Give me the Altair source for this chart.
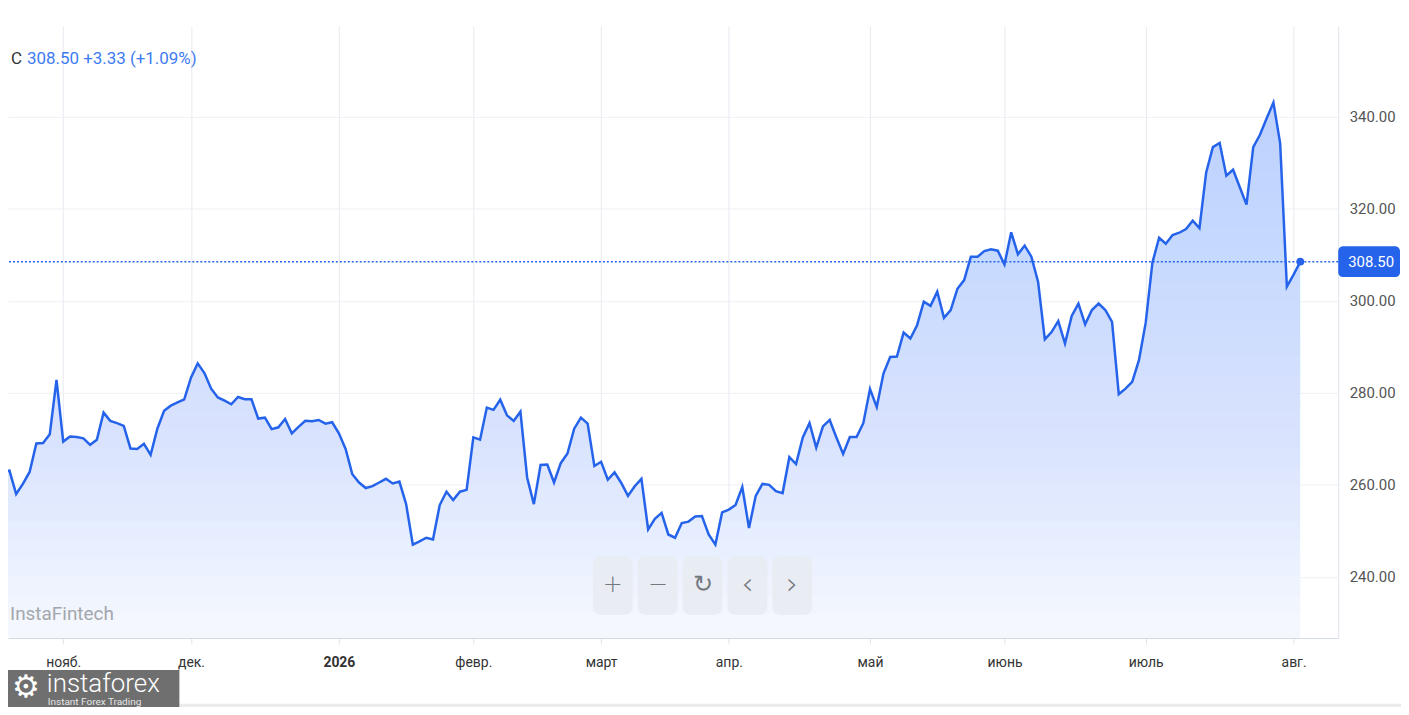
import altair as alt
import pandas as pd

# ---------------- data ----------------
ticker = "C"
last_price = 308.50
change = "+3.33"
change_pct = "(+1.09%)"

prices = [
    262.7, 263.1, 258.0, 260.2, 262.8, 269.0, 269.1, 271.0, 282.8, 269.4,
    270.5, 270.4, 270.1, 268.7, 269.8, 275.7, 273.9, 273.4, 272.8, 267.9,
    267.8, 268.9, 266.5, 272.2, 276.1, 277.2, 277.9, 278.6, 283.3, 286.4,
    284.3, 280.9, 279.0, 278.3, 277.5, 279.1, 278.6, 278.6, 274.4, 274.6,
    272.1, 272.5, 274.3, 271.2, 272.6, 273.9, 273.8, 274.1, 273.3, 273.6,
    271.2, 267.8, 262.3, 260.5, 259.3, 259.7, 260.5, 261.3, 260.3, 260.7,
    255.8, 247.0, 247.7, 248.5, 248.1, 255.6, 258.5, 256.7, 258.5, 258.9,
    270.3, 269.8, 276.8, 276.3, 278.5, 275.1, 273.9, 275.9, 261.6, 255.8,
    264.3, 264.4, 260.5, 264.7, 266.8, 272.2, 274.6, 273.3, 264.1, 265.0,
    261.1, 262.7, 260.4, 257.6, 259.7, 261.3, 250.3, 252.6, 253.9, 249.2,
    248.5, 251.7, 252.0, 253.1, 253.2, 249.2, 247.0, 254.0, 254.6, 255.6,
    259.5, 250.6, 257.6, 260.2, 260.0, 258.6, 258.2, 266.0, 264.5, 270.3,
    273.4, 268.1, 272.7, 274.1, 270.3, 266.7, 270.4, 270.4, 273.4, 280.8,
    276.9, 284.2, 287.8, 287.9, 293.1, 291.8, 294.7, 299.8, 298.9, 302.0,
    296.3, 298.0, 302.6, 304.5, 309.6, 309.6, 310.8, 311.2, 310.9, 307.9,
    314.9, 310.1, 312.0, 309.6, 304.1, 291.6, 293.2, 295.6, 290.7, 296.7,
    299.4, 294.9, 298.0, 299.4, 298.0, 295.4, 279.7, 280.9, 282.4, 287.1,
    295.2, 308.3, 313.7, 312.4, 314.3, 314.8, 315.6, 317.4, 315.8, 327.9,
    333.4, 334.3, 327.2, 328.5, 324.7, 320.9, 333.4, 336.1, 339.7, 343.1,
    334.3, 303.1, 305.7, 308.5,
]

month_ticks = [9, 28, 50, 70, 89, 108, 129, 149, 170, 192]
month_labels = ["нояб.", "дек.", "2026", "февр.", "март", "апр.", "май", "июнь", "июль", "авг."]
year_tick = 50
y_ticks = [240, 260, 280, 300, 320, 340]

watermark = "InstaFintech"
logo_main = "instaforex"
logo_sub = "Instant Forex Trading"
buttons = ["+", "−", "↻", "‹", "›"]

df = pd.DataFrame({"i": list(range(len(prices))), "price": prices})
df_last = pd.DataFrame({"v": [last_price]})

# shading bands (a stepped vertical fade under the price line)
shade_levels = list(range(232, 345, 4))
df_shade = pd.concat(
    [df.assign(level=lv, top=df["price"].clip(lower=lv)) for lv in shade_levels],
    ignore_index=True,
)

# ---------------- layout / style ----------------
W, H = 1335, 614
BLUE = "#2563eb"
BLUE_TXT = "#3d7bf2"
FONT = "Roboto"
Y_MIN, Y_MAX = 226.7, 359.7

x_scale = alt.Scale(domain=[0.785, 198.64], nice=False, zero=False)
y_scale = alt.Scale(domain=[Y_MIN, Y_MAX], nice=False, zero=False)

label_expr = ("[" + ",".join(f"'{l}'" for l in month_labels) + "][indexof(["
              + ",".join(str(t) for t in month_ticks) + "], datum.value)]")

x_axis = alt.Axis(
    values=month_ticks, labelExpr=label_expr, title=None, grid=True,
    gridColor="#e7eaf0", tickColor="#dfe3ea", tickSize=6, domainColor="#d5dbe3",
    labelColor="#333333", labelFont=FONT, labelFontSize=14, labelPadding=12,
    labelFontWeight={"condition": {"test": f"datum.value === {year_tick}", "value": "bold"}, "value": "normal"},
    labelFlush=False, labelOverlap=False,
)
y_axis = alt.Axis(
    orient="right", values=y_ticks, format=".2f", title=None, grid=True,
    gridColor="#eef0f4", ticks=False, domainColor="#dde2ea",
    labelColor="#555555", labelFont=FONT, labelFontSize=15, labelPadding=11,
)

X = alt.X("i:Q", scale=x_scale, axis=x_axis)
Y = alt.Y("price:Q", scale=y_scale, axis=y_axis)

base = alt.Chart(df)
area = base.mark_area(clip=True, color="#f4f7fe", opacity=1).encode(x=X, y=Y, y2=alt.value(H))
shade = alt.Chart(df_shade).mark_area(clip=True, color="#a9c1f2", opacity=0.036).encode(
    x=alt.X("i:Q", scale=x_scale),
    y=alt.Y("top:Q", scale=y_scale, stack=None),
    y2="level:Q",
    detail="level:N",
)
line = base.mark_line(clip=True, color=BLUE, strokeWidth=2.5).encode(
    x=alt.X("i:Q", scale=x_scale), y=alt.Y("price:Q", scale=y_scale))
endpoint = base.transform_filter(f"datum.i == {len(prices) - 1}").mark_circle(
    size=60, color=BLUE, opacity=1).encode(
    x=alt.X("i:Q", scale=x_scale), y=alt.Y("price:Q", scale=y_scale))

last_rule = alt.Chart(df_last).mark_rule(color=BLUE, strokeWidth=1.4, strokeDash=[2, 2]).encode(
    y=alt.Y("v:Q", scale=y_scale))
last_box = alt.Chart(df_last).transform_calculate(
    top="datum.v + 3.35", bot="datum.v - 3.35").mark_rect(
    color=BLUE, cornerRadius=5).encode(
    x=alt.value(W), x2=alt.value(W + 62),
    y=alt.Y("top:Q", scale=y_scale), y2="bot:Q")
last_txt = alt.Chart(df_last).mark_text(
    color="white", font=FONT, fontSize=15, align="center", baseline="middle").encode(
    x=alt.value(W + 33), y=alt.Y("v:Q", scale=y_scale), text=alt.Text("v:Q", format=".2f"))

header_c = alt.Chart(pd.DataFrame({"t": [ticker]})).mark_text(
    align="left", baseline="middle", font=FONT, fontSize=17, color="#333333").encode(
    x=alt.value(3), y=alt.value(33), text="t:N")
header_v = alt.Chart(pd.DataFrame({"t": [f"{last_price:.2f}  {change} {change_pct}"]})).mark_text(
    align="left", baseline="middle", font=FONT, fontSize=17, color=BLUE_TXT).encode(
    x=alt.value(19), y=alt.value(33), text="t:N")

wm = alt.Chart(pd.DataFrame({"t": [watermark]})).mark_text(
    align="left", baseline="middle", font=FONT, fontSize=19, color="#a3a7ad").encode(
    x=alt.value(2), y=alt.value(590), text="t:N")

layers = [area, shade, line, last_rule, endpoint, last_box, last_txt, header_c, header_v, wm]

# zoom / navigation buttons
for k, g in enumerate(buttons):
    cx = 607 + 45 * k
    bdf = pd.DataFrame({"g": [g]})
    layers.append(alt.Chart(bdf).mark_rect(color="#e8ebf1", opacity=0.85, cornerRadius=8).encode(
        x=alt.value(cx - 20), x2=alt.value(cx + 20), y=alt.value(532), y2=alt.value(591)))
    layers.append(alt.Chart(bdf).mark_text(
        font="DejaVu Sans", fontSize=24 if g not in "‹›" else 30, fontWeight=300, color="#74787f",
        align="center", baseline="middle").encode(
        x=alt.value(cx), y=alt.value(561), text="g:N"))

# brand strip at the bottom
layers.append(alt.Chart(pd.DataFrame({"a": [0]})).mark_rect(color="#ebebeb").encode(
    x=alt.value(172), x2=alt.value(W + 63), y=alt.value(680), y2=alt.value(700)))
layers.append(alt.Chart(pd.DataFrame({"a": [0]})).mark_rect(color="#6f6f6f").encode(
    x=alt.value(0), x2=alt.value(172), y=alt.value(646), y2=alt.value(700)))
layers.append(alt.Chart(pd.DataFrame({"t": ["⚙"]})).mark_text(
    font="DejaVu Sans", fontSize=31, color="white", align="center", baseline="middle").encode(
    x=alt.value(18), y=alt.value(664), text="t:N"))
layers.append(alt.Chart(pd.DataFrame({"t": [logo_main]})).mark_text(
    font=FONT, fontSize=26, fontWeight=300, color="white", align="left", baseline="alphabetic").encode(
    x=alt.value(39), y=alt.value(668), text="t:N"))
layers.append(alt.Chart(pd.DataFrame({"t": [logo_sub]})).mark_text(
    font=FONT, fontSize=10, color="#e6e6e6", align="left", baseline="alphabetic").encode(
    x=alt.value(40), y=alt.value(681.5), text="t:N"))

chart = alt.layer(*layers).properties(
    width=W, height=H,
    padding={"left": 0, "top": 17, "right": 63, "bottom": 68},
    autosize=alt.AutoSizeParams(type="none"),
    background="white",
).configure_view(stroke=None)

chart.save("out.html", embed_options={"renderer": "svg", "actions": False})
